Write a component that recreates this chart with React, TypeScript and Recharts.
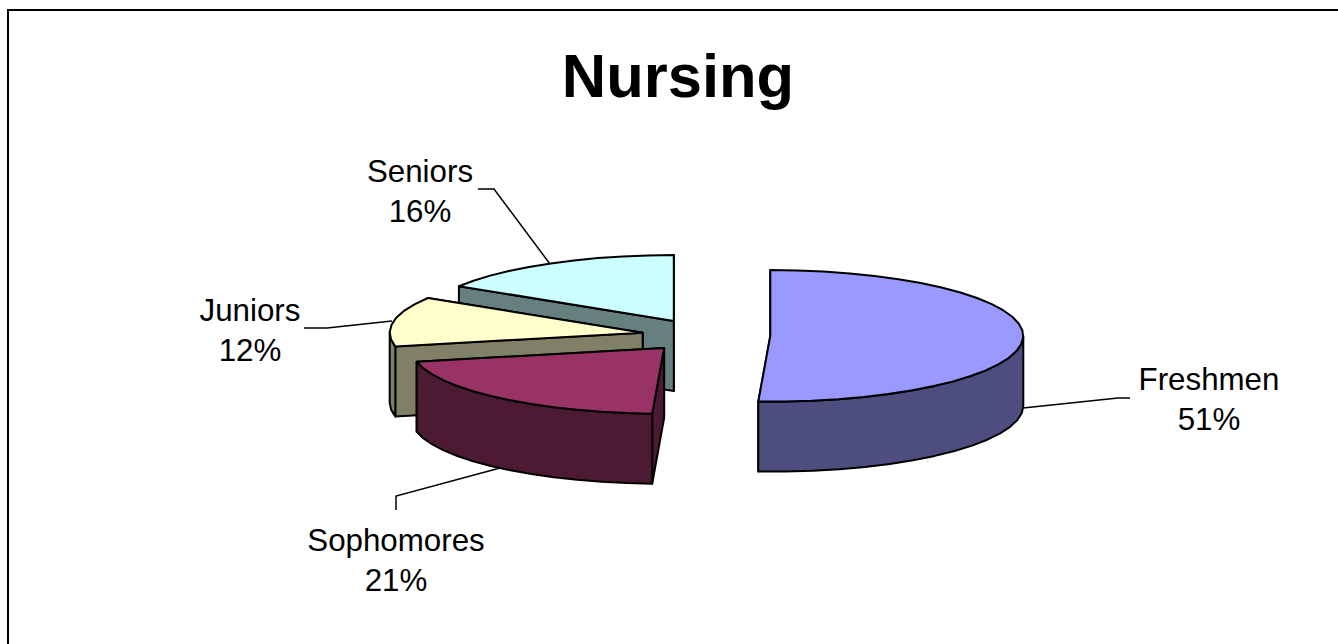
import { Pie, PieChart } from 'recharts';

// Slices run counter-clockwise from 12 o'clock so the front ones paint last
const categories = ['Seniors', 'Juniors', 'Sophomores', 'Freshmen'];
const shares = [16.15, 12.2, 20.9, 50.75];
const topColors = ['#CCFFFF', '#FFFFCC', '#993366', '#9999FF'];
const sideColors = ['#668080', '#808066', '#4D1A33', '#4D4D80'];
// How far each slice is pulled out, as a share of the radius
const explosions = [0.254, 0.25, 0.25, 0.258];

const pieData = categories.map((name, i) => ({ name, value: shares[i] }));

// Fake 3D: how flat the disc is and how thick
const TILT = 0.26;
const DEPTH = 70;
const RADIAN = Math.PI / 180;
const FONT = '"Liberation Sans", Arial, sans-serif';

// Label text centre plus its leader line
const labelLayout: Record<string, { x: number; y: number; line: string }> = {
  Seniors: { x: 420, y: 171, line: '550,264 494,189 478,189' },
  Juniors: { x: 250, y: 310, line: '392,321 327,328 304,328' },
  Sophomores: { x: 396, y: 540, line: '500,468 396,496 396,510' },
  Freshmen: { x: 1209, y: 379, line: '1023,408 1118,398 1130,398' },
};

const arcPoints = (x0: number, y0: number, r: number, from: number, to: number) => {
  const pts: [number, number][] = [];
  const steps = Math.max(1, Math.round((to - from) / 6));
  for (let i = 0; i <= steps; i++) {
    const a = (from + ((to - from) * i) / steps) * RADIAN;
    pts.push([x0 + r * Math.cos(a), y0 - r * TILT * Math.sin(a)]);
  }
  return pts;
};

const toPath = (pts: [number, number][]) =>
  'M' + pts.map((p) => `${p[0].toFixed(1)},${p[1].toFixed(1)}`).join('L') + 'Z';

const Slice3D = (props: any) => {
  const { cx, cy, outerRadius: r, startAngle, endAngle, index } = props;
  const mid = ((startAngle + endAngle) / 2) * RADIAN;
  const x0 = cx + explosions[index] * r * Math.cos(mid);
  const y0 = cy - explosions[index] * r * TILT * Math.sin(mid);
  const top = arcPoints(x0, y0, r, startAngle, endAngle);
  const first = top[0];
  const last = top[top.length - 1];
  const drop = (p: [number, number]): [number, number] => [p[0], p[1] + DEPTH];

  const walls = [
    [[x0, y0], first, drop(first), [x0, y0 + DEPTH]],
    [[x0, y0], last, drop(last), [x0, y0 + DEPTH]],
  ] as [number, number][][];

  // the rim only shows on the lower half of the ellipse
  const lo = Math.max(startAngle, 180);
  const hi = Math.min(endAngle, 360);
  if (lo < hi) {
    const rim = arcPoints(x0, y0, r, lo, hi);
    walls.push([...rim, ...rim.slice().reverse().map(drop)]);
  }

  const line = { stroke: '#000', strokeWidth: 2, strokeLinejoin: 'round' as const };
  return (
    <g>
      {walls.map((w, i) => (
        <path key={i} d={toPath(w)} fill={sideColors[index]} {...line} />
      ))}
      <path d={toPath([[x0, y0], ...top])} fill={topColors[index]} {...line} />
    </g>
  );
};

const SliceLabel = (props: any) => {
  const layout = labelLayout[props.name];
  return (
    <g>
      <polyline points={layout.line} fill="none" stroke="#000" strokeWidth={1.5} />
      <text
        x={layout.x}
        y={layout.y}
        textAnchor="middle"
        dominantBaseline="central"
        fontFamily={FONT}
        fontSize={31.3}
        fill="#000"
      >
        {props.name}
      </text>
      <text
        x={layout.x}
        y={layout.y + 40}
        textAnchor="middle"
        dominantBaseline="central"
        fontFamily={FONT}
        fontSize={31.3}
        fill="#000"
      >
        {`${Math.round(props.value)}%`}
      </text>
    </g>
  );
};

export default function App() {
  return (
    <div style={{ position: 'absolute', left: 0, top: 0, width: 1338, height: 644, overflow: 'hidden', background: '#fff' }}>
      <div
        style={{
          position: 'absolute',
          left: 7,
          top: 9,
          width: 1400,
          height: 700,
          border: '2px solid #000',
        }}
      />
      <div
        style={{
          position: 'absolute',
          left: 0,
          top: 41,
          width: 1356,
          textAlign: 'center',
          fontFamily: FONT,
          fontWeight: 'bold',
          fontSize: 61.5,
          lineHeight: '70px',
          color: '#000',
        }}
      >
        Nursing
      </div>
      <div style={{ position: 'absolute', left: 0, top: 0 }}>
        <PieChart width={1338} height={644} margin={{ top: 0, right: 0, bottom: 0, left: 0 }}>
          <Pie
            data={pieData}
            dataKey="value"
            nameKey="name"
            cx={705}
            cy={335.5}
            innerRadius={0}
            outerRadius={253}
            startAngle={90}
            endAngle={450}
            paddingAngle={0}
            shape={Slice3D}
            label={SliceLabel}
            labelLine={false}
            isAnimationActive={false}
          />
        </PieChart>
      </div>
    </div>
  );
}
